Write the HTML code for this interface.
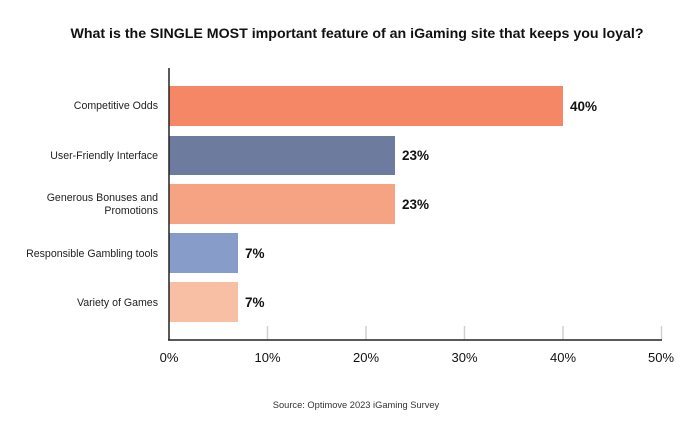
<!DOCTYPE html>
<html><head><style>
body{margin:0;background:#fff;}
svg{display:block;font-family:"Liberation Sans",sans-serif;}
</style></head><body>
<svg width="695" height="429" viewBox="0 0 695 429">
<text x="357" y="38" text-anchor="middle" font-size="14.2" font-weight="bold" fill="#111">What is the SINGLE MOST important feature of an iGaming site that keeps you loyal?</text>
<g stroke="#d0d0d0" stroke-width="1.5">
<line x1="267.5" y1="326" x2="267.5" y2="340"/><line x1="366" y1="326" x2="366" y2="340"/>
<line x1="464.5" y1="326" x2="464.5" y2="340"/><line x1="563" y1="326" x2="563" y2="340"/>
<line x1="661.5" y1="326" x2="661.5" y2="340"/>
</g>
<rect x="169" y="86" width="394" height="40" fill="#f58766"/>
<rect x="169" y="136" width="226" height="39" fill="#6d7b9e"/>
<rect x="169" y="184" width="226" height="40" fill="#f6a384"/>
<rect x="169" y="233" width="69" height="40" fill="#879cc9"/>
<rect x="169" y="282" width="69" height="40" fill="#f9bfa5"/>
<line x1="169" y1="68" x2="169" y2="340" stroke="#222" stroke-width="1.5"/>
<line x1="168" y1="340" x2="662" y2="340" stroke="#222" stroke-width="1.5"/>
<g font-size="10.6" fill="#222" text-anchor="end">
<text x="158" y="109">Competitive Odds</text>
<text x="158" y="159">User-Friendly Interface</text>
<text x="158" y="201">Generous Bonuses and</text>
<text x="158" y="214">Promotions</text>
<text x="158" y="257">Responsible Gambling tools</text>
<text x="158" y="306">Variety of Games</text>
</g>
<g font-size="13.5" font-weight="bold" fill="#111">
<text x="570" y="111">40%</text>
<text x="402" y="160">23%</text>
<text x="402" y="209">23%</text>
<text x="245" y="258">7%</text>
<text x="245" y="307">7%</text>
</g>
<g font-size="13" fill="#111" text-anchor="middle">
<text x="169" y="362">0%</text><text x="267.5" y="362">10%</text><text x="366" y="362">20%</text>
<text x="464.5" y="362">30%</text><text x="563" y="362">40%</text><text x="661" y="362">50%</text>
</g>
<text x="356" y="408" text-anchor="middle" font-size="9.3" fill="#333">Source: Optimove 2023 iGaming Survey</text>
</svg>
</body></html>
